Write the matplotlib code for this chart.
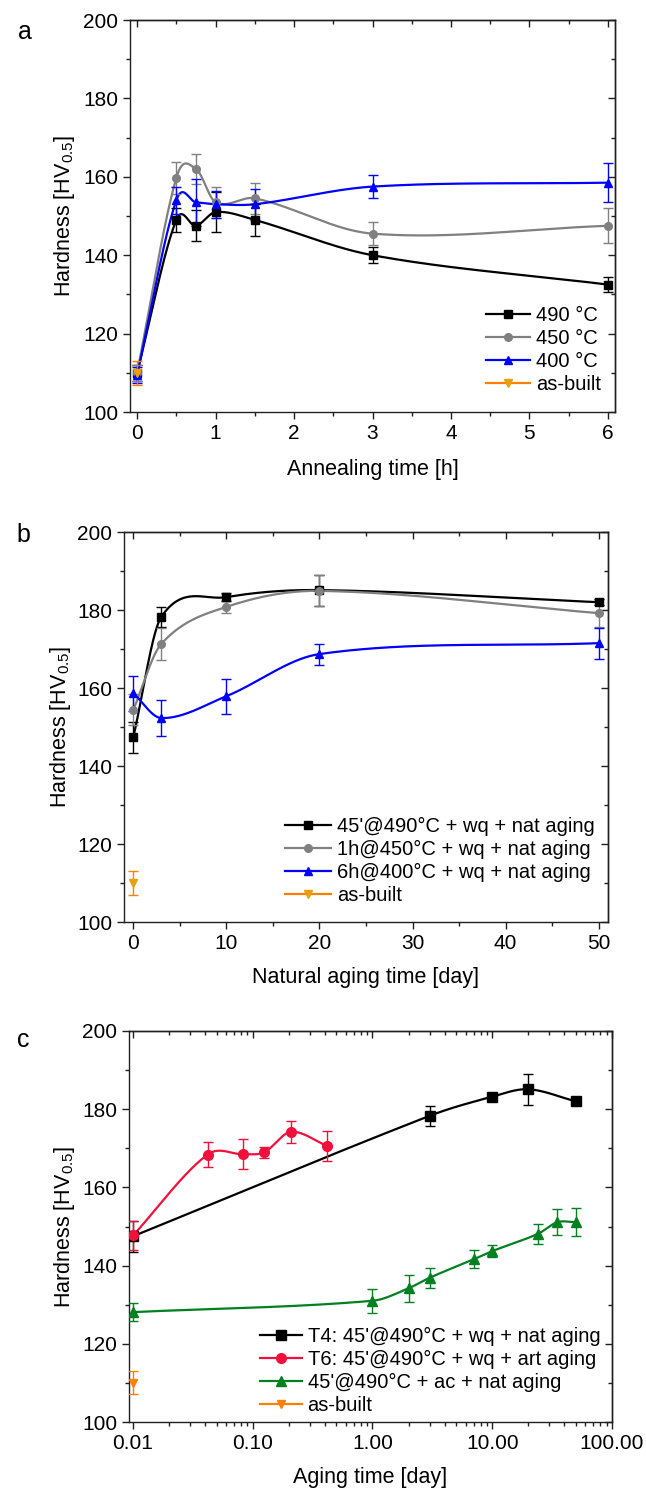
import numpy as np
import matplotlib
matplotlib.use("Agg")
import matplotlib.pyplot as plt
from matplotlib.lines import Line2D
from matplotlib.ticker import MultipleLocator, FixedLocator, FuncFormatter, LogLocator, NullFormatter

plt.rcParams['font.family'] = ['Liberation Sans', 'DejaVu Sans']
plt.rcParams['mathtext.fontset'] = 'custom'
plt.rcParams['mathtext.rm'] = 'Liberation Sans'
plt.rcParams['mathtext.default'] = 'regular'

# ---------------- data: panel a ----------------
a_time = [0, 0.5, 0.75, 1, 1.5, 3, 6]
a_490 = [110, 149, 147.5, 151, 149, 140, 132.5]
a_490_err = [2, 3, 4, 5, 4, 2, 2]
a_450 = [110, 159.7, 162, 153.5, 154.5, 145.5, 147.5]
a_450_err = [2, 4, 3.8, 4, 4, 3, 4.5]
a_400 = [109.5, 154, 153.5, 153, 153, 157.5, 158.5]
a_400_err = [2, 3.5, 6, 3.5, 4, 3, 5]
a_asbuilt_time = [0]
a_asbuilt = [110]
a_asbuilt_err = [3]
a_labels = ['490 °C', '450 °C', '400 °C', 'as-built']

# ---------------- data: panel b ----------------
b_time = [0, 3, 10, 20, 50]
b_490 = [147.4, 178.2, 183.3, 185.1, 182]
b_490_err = [4, 2.5, 1, 4, 0.8]
b_450 = [154.4, 171.3, 180.8, 184.9, 179.2]
b_450_err = [4, 4, 1.5, 4, 3.5]
b_400 = [158.7, 152.3, 157.9, 168.7, 171.5]
b_400_err = [4.5, 4.6, 4.5, 2.7, 4]
b_asbuilt_time = [0]
b_asbuilt = [110]
b_asbuilt_err = [3]
b_labels = ["45'@490°C + wq + nat aging", "1h@450°C + wq + nat aging",
            "6h@400°C + wq + nat aging", "as-built"]

# ---------------- data: panel c ----------------
c_t4_time = [0.01, 3, 10, 20, 50]
c_t4 = [147.5, 178.3, 183.2, 185.1, 182]
c_t4_err = [4, 2.5, 1, 4, 0.8]
c_t6_time = [0.01, 0.042, 0.083, 0.125, 0.208, 0.417]
c_t6 = [147.7, 168.4, 168.5, 169, 174.2, 170.6]
c_t6_err = [3.8, 3.3, 3.9, 1.4, 2.8, 3.8]
c_ac_time = [0.01, 1, 2, 3, 7, 10, 24, 35, 50]
c_ac = [128.1, 131, 134.2, 136.9, 141.6, 143.7, 148.1, 151.1, 151.1]
c_ac_err = [2.3, 3.1, 3.5, 2.6, 2.3, 1.5, 2.5, 3.4, 3.6]
c_asbuilt_time = [0.01]
c_asbuilt = [110.1]
c_asbuilt_err = [2.9]
c_labels = ["T4: 45'@490°C + wq + nat aging", "T6: 45'@490°C + wq + art aging",
            "45'@490°C + ac + nat aging", "as-built"]

BLACK = '#000000'
GRAY = '#808080'
BLUE = '#0000FF'
ORANGE = '#FF8000'
ORANGE_M = '#E8A010'
RED = '#F0103C'
GREEN = '#008020'
SPINE = '#202020'

W, H = 646, 1493
fig = plt.figure(figsize=(W / 100, H / 100), dpi=100)


def ax_px(l, t, r, b):
    return fig.add_axes([l / W, 1 - b / H, (r - l) / W, (b - t) / H])


def smooth_curve(x, y, n=60):
    """Cubic Hermite (Catmull-Rom style) connector through the data points."""
    x = np.asarray(x, float)
    y = np.asarray(y, float)
    m = len(x)
    s = np.zeros(m)
    s[0] = (y[1] - y[0]) / (x[1] - x[0])
    s[-1] = (y[-1] - y[-2]) / (x[-1] - x[-2])
    for i in range(1, m - 1):
        s[i] = (y[i + 1] - y[i - 1]) / (x[i + 1] - x[i - 1])
    xs_all, ys_all = [], []
    for i in range(m - 1):
        h = x[i + 1] - x[i]
        t = np.linspace(0, 1, n)
        h00 = 2 * t ** 3 - 3 * t ** 2 + 1
        h10 = t ** 3 - 2 * t ** 2 + t
        h01 = -2 * t ** 3 + 3 * t ** 2
        h11 = t ** 3 - t ** 2
        xs_all.append(x[i] + t * h)
        ys_all.append(h00 * y[i] + h10 * h * s[i] + h01 * y[i + 1] + h11 * h * s[i + 1])
    return np.concatenate(xs_all), np.concatenate(ys_all)


def series(ax, x, y, err, color, marker, ms=6, mfc=None, log=False, lw=1.6):
    if len(x) > 1:
        if log:
            xs, ys = smooth_curve(np.log10(x), y)
            xs = 10 ** xs
        else:
            xs, ys = smooth_curve(x, y)
        ax.plot(xs, ys, color=color, lw=lw, zorder=3)
    ax.errorbar(x, y, yerr=err, fmt=marker, color=color, ms=ms,
                mfc=mfc or color, mec=mfc or color, ecolor=color,
                elinewidth=1.0, capsize=3.5, capthick=1.0, zorder=4)


def style(ax, log=False):
    for s in ax.spines.values():
        s.set_linewidth(1.0)
        s.set_color(SPINE)
    ax.tick_params(which='both', labelsize=15, width=1.0, color=SPINE, direction='out')
    ax.tick_params(which='major', length=5)
    ax.tick_params(which='minor', length=3)
    ax.set_ylim(100, 200)
    ax.yaxis.set_major_locator(MultipleLocator(20))
    ax.yaxis.set_minor_locator(MultipleLocator(10))
    ax.set_ylabel('Hardness [HV$_{0.5}$]', fontsize=15.5)
    # mirrored inward ticks on top and right
    if log:
        top = ax.secondary_xaxis('top', functions=(lambda v: v, lambda v: v))
    else:
        top = ax.secondary_xaxis('top')
    top.xaxis.set_major_locator(ax.xaxis.get_major_locator())
    top.xaxis.set_minor_locator(ax.xaxis.get_minor_locator())
    top.tick_params(which='both', direction='in', labeltop=False, width=1.0, color=SPINE)
    top.tick_params(which='major', length=5)
    top.tick_params(which='minor', length=3)
    top.spines['top'].set_linewidth(1.0)
    top.spines['top'].set_color(SPINE)
    right = ax.secondary_yaxis('right')
    right.yaxis.set_major_locator(MultipleLocator(20))
    right.yaxis.set_minor_locator(MultipleLocator(10))
    right.tick_params(which='both', direction='in', labelright=False, width=1.0, color=SPINE)
    right.tick_params(which='major', length=5)
    right.tick_params(which='minor', length=3)
    right.spines['right'].set_linewidth(1.0)
    right.spines['right'].set_color(SPINE)


def legend(ax, handles, labels, x, y, hl):
    ax.legend(handles, labels, loc='upper left', bbox_to_anchor=(x, y),
              frameon=False, fontsize=14.5, handlelength=hl, handletextpad=0.3,
              labelspacing=0.2, borderpad=0, borderaxespad=0, numpoints=1)


def proxy(color, marker, mfc=None, ms=6):
    return Line2D([0], [0], color=color, marker=marker, lw=1.6, ms=ms,
                  mfc=mfc or color, mec=mfc or color)


# ---------------- panel a ----------------
axa = ax_px(130, 20, 615, 412)
series(axa, a_time, a_490, a_490_err, BLACK, 's', ms=5.5)
series(axa, a_time, a_450, a_450_err, GRAY, 'o', ms=5.5)
series(axa, a_time, a_400, a_400_err, BLUE, '^', ms=6)
series(axa, a_asbuilt_time, a_asbuilt, a_asbuilt_err, ORANGE, 'v', ms=6, mfc=ORANGE_M)
axa.set_xlim(-0.09, 6.09)
axa.xaxis.set_major_locator(MultipleLocator(1))
axa.xaxis.set_minor_locator(MultipleLocator(0.5))
style(axa)
axa.set_xlabel('Annealing time [h]', fontsize=15.5)
axa.xaxis.set_label_coords(0.5, -0.12)
axa.yaxis.set_label_coords(-0.109, 0.5)
legend(axa, [proxy(BLACK, 's', ms=5.5), proxy(GRAY, 'o', ms=5.5), proxy(BLUE, '^'),
             proxy(ORANGE, 'v', mfc=ORANGE_M)], a_labels, 0.734, 0.27, 2.2)

# ---------------- panel b ----------------
axb = ax_px(124, 532, 608, 922)
series(axb, b_time, b_490, b_490_err, BLACK, 's', ms=5.5)
series(axb, b_time, b_450, b_450_err, GRAY, 'o', ms=5.5)
series(axb, b_time, b_400, b_400_err, BLUE, '^', ms=6)
series(axb, b_asbuilt_time, b_asbuilt, b_asbuilt_err, ORANGE, 'v', ms=6, mfc=ORANGE_M)
axb.set_xlim(-1, 51)
axb.xaxis.set_major_locator(MultipleLocator(10))
axb.xaxis.set_minor_locator(MultipleLocator(5))
style(axb)
axb.set_xlabel('Natural aging time [day]', fontsize=15.5)
axb.xaxis.set_label_coords(0.5, -0.115)
axb.yaxis.set_label_coords(-0.105, 0.5)
legend(axb, [proxy(BLACK, 's', ms=5.5), proxy(GRAY, 'o', ms=5.5), proxy(BLUE, '^'),
             proxy(ORANGE, 'v', mfc=ORANGE_M)], b_labels, 0.333, 0.27, 2.26)

# ---------------- panel c ----------------
axc = ax_px(129, 1031, 612, 1422)
axc.set_xscale('log')
series(axc, c_t4_time, c_t4, c_t4_err, BLACK, 's', ms=6.5, log=True)
series(axc, c_t6_time, c_t6, c_t6_err, RED, 'o', ms=7, log=True)
series(axc, c_ac_time, c_ac, c_ac_err, GREEN, '^', ms=7, log=True)
series(axc, c_asbuilt_time, c_asbuilt, c_asbuilt_err, ORANGE, 'v', ms=6, mfc=ORANGE, log=True)
axc.set_xlim(0.00926, 100)
axc.xaxis.set_major_locator(FixedLocator([0.01, 0.1, 1, 10, 100]))
axc.xaxis.set_major_formatter(FuncFormatter(lambda v, p: f'{v:.2f}'))
axc.xaxis.set_minor_locator(LogLocator(base=10, subs=np.arange(2, 10) * 1.0, numticks=20))
axc.xaxis.set_minor_formatter(NullFormatter())
style(axc, log=True)
axc.set_xlabel('Aging time [day]', fontsize=15.5)
axc.xaxis.set_label_coords(0.5, -0.115)
axc.yaxis.set_label_coords(-0.108, 0.5)
legend(axc, [proxy(BLACK, 's', ms=6.5), proxy(RED, 'o', ms=7), proxy(GREEN, '^', ms=7),
             proxy(ORANGE, 'v')], c_labels, 0.271, 0.244, 2.07)

for lab, (x, y) in zip(['a', 'b', 'c'], [(25, 32), (23, 535), (23, 1040)]):
    fig.text(x / W, 1 - y / H, lab, fontsize=18, ha='center', va='center')

fig.savefig('out.png', dpi=100)
